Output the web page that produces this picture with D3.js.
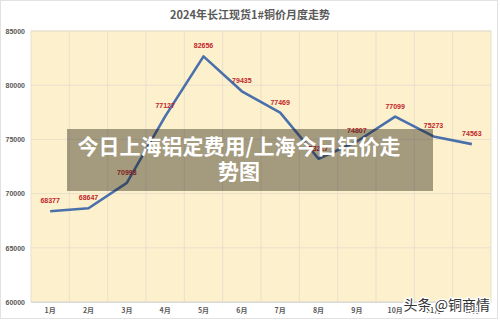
<!DOCTYPE html>
<html>
<head>
<meta charset="utf-8">
<script src="https://cdn.jsdelivr.net/npm/d3@7"></script>
<style>
  html, body { margin: 0; padding: 0; background: #ffffff; }
  svg { display: block; }
</style>
</head>
<body>
<svg id="chart" width="500" height="322"></svg>
<script>
// Monthly spot price of Changjiang 1# copper, 2024
const months = ["1月", "2月", "3月", "4月", "5月", "6月", "7月", "8月", "9月", "10月", "11月", "12月"];
const prices = [68377, 68647, 70993, 77127, 82656, 79435, 77469, 73217, 74807, 77099, 75273, 74563];
const yTicks = [60000, 65000, 70000, 75000, 80000, 85000];
const titleText = "2024年长江现货1#铜价月度走势";
const bannerLines = ["今日上海铝定费用/上海今日铝价走", "势图"];
const watermark = "头条 @铜商情";

const svg = d3.select("#chart");
const W = 500, H = 322;
const m = { left: 31, right: 9, top: 31, bottom: 20 };
const plotW = W - m.left - m.right;
const plotH = H - m.top - m.bottom;

// outer frame
svg.append("rect").attr("x", 0.5).attr("y", 0.5).attr("width", 497).attr("height", 318)
  .attr("fill", "#ffffff").attr("stroke", "#e2e2e2");

svg.append("text").attr("x", 250).attr("y", 19).attr("text-anchor", "middle")
  .attr("font-family", "'Noto Sans CJK SC', sans-serif").attr("font-weight", "bold")
  .attr("font-size", 11).attr("fill", "#595959").text(titleText);

const x = d3.scaleBand().domain(months).range([0, plotW]).padding(0);
const y = d3.scaleLinear().domain([60000, 85000]).range([plotH, 0]);

const g = svg.append("g").attr("transform", `translate(${m.left},${m.top})`);

g.append("rect").attr("width", plotW).attr("height", plotH).attr("fill", "#fdf0cc");

// horizontal grid
g.append("g").selectAll("line").data(yTicks).join("line")
  .attr("x1", 0).attr("x2", plotW)
  .attr("y1", d => y(d)).attr("y2", d => y(d))
  .attr("stroke", "#e8e0cc").attr("stroke-width", 1);

// vertical grid at band edges
g.append("g").selectAll("line").data(months.slice(1)).join("line")
  .attr("x1", d => x(d)).attr("x2", d => x(d))
  .attr("y1", 0).attr("y2", plotH)
  .attr("stroke", "#e8e0cc").attr("stroke-width", 1);

g.append("rect").attr("width", plotW).attr("height", plotH)
  .attr("fill", "none").attr("stroke", "#e6dfcf");

// y axis
const yAxis = g.append("g").call(d3.axisLeft(y).tickValues(yTicks).tickSize(0).tickPadding(6).tickFormat(d3.format("d")));
yAxis.select(".domain").remove();
yAxis.selectAll("text").attr("font-family", "'Liberation Sans', Arial, sans-serif")
  .attr("font-size", 7).attr("font-weight", "bold").attr("fill", "#595959");

// x axis
const xAxis = g.append("g").attr("transform", `translate(0,${plotH})`)
  .call(d3.axisBottom(x).tickSize(0).tickPadding(6));
xAxis.select(".domain").attr("stroke", "#d9d9d9");
xAxis.selectAll("text").attr("font-family", "'Noto Sans CJK SC', sans-serif")
  .attr("font-size", 7).attr("font-weight", "bold").attr("fill", "#595959");

const cx = d => x(d) + x.bandwidth() / 2;
const data = months.map((mth, i) => ({ m: mth, v: prices[i] }));

g.append("path").datum(data)
  .attr("fill", "none").attr("stroke", "#4a70ac").attr("stroke-width", 2.6)
  .attr("stroke-linejoin", "round")
  .attr("d", d3.line().x(d => cx(d.m)).y(d => y(d.v)));

g.append("g").selectAll("text").data(data).join("text")
  .attr("x", d => cx(d.m)).attr("y", d => y(d.v) - 8)
  .attr("text-anchor", "middle")
  .attr("font-family", "'Liberation Sans', Arial, sans-serif")
  .attr("font-size", 7).attr("font-weight", "bold").attr("fill", "#c0272d")
  .text(d => d.v);

// headline banner
svg.append("rect").attr("x", 67).attr("y", 129).attr("width", 366).attr("height", 62)
  .attr("fill", "rgba(30,25,10,0.4)");
svg.append("g").selectAll("text").data(bannerLines).join("text")
  .attr("x", 239).attr("y", (d, i) => 154 + i * 25)
  .attr("text-anchor", "middle")
  .attr("font-family", "'Noto Sans CJK SC', sans-serif").attr("font-weight", "bold")
  .attr("font-size", 21).attr("fill", "#ffffff")
  .text(d => d);

// watermark
svg.append("text").attr("x", 490).attr("y", 310).attr("text-anchor", "end")
  .attr("font-family", "'Noto Sans CJK SC', sans-serif")
  .attr("font-size", 14).attr("fill", "#333333")
  .attr("stroke", "#ffffff").attr("stroke-width", 2.5).attr("paint-order", "stroke")
  .text(watermark);
</script>
</body>
</html>
